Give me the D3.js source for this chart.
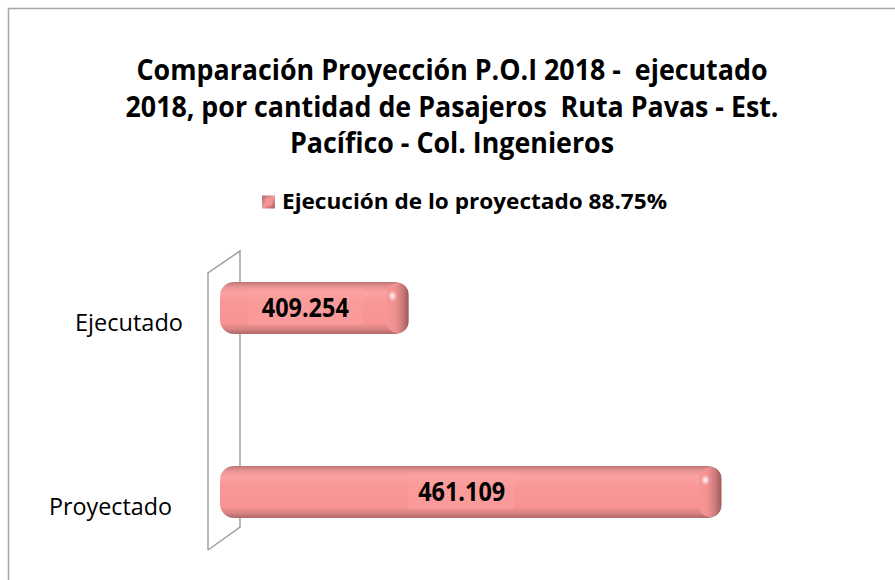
<!DOCTYPE html>
<html>
<head>
<meta charset="utf-8">
<script src="https://cdn.jsdelivr.net/npm/d3@7"></script>
<style>
  body { margin: 0; background: #fff; }
  text { font-family: "Open Sans", Lato, sans-serif; fill: #000; white-space: pre; }
</style>
</head>
<body>
<script>
// data
const categories = ["Ejecutado", "Proyectado"];
const values = [409.254, 461.109];
const valueLabels = ["409.254", "461.109"];
const titleLines = [
  "Comparación Proyección P.O.I 2018 -  ejecutado",
  "2018, por cantidad de Pasajeros  Ruta Pavas - Est.",
  "Pacífico - Col. Ingenieros"
];
const legendLabel = "Ejecución de lo proyectado 88.75%";

const W = 895, H = 580;

const svg = d3.select("body").append("svg")
  .attr("width", W)
  .attr("height", H);

const defs = svg.append("defs");

// vertical shading of the bar body
const bodyGrad = defs.append("linearGradient")
  .attr("id", "body").attr("x1", 0).attr("y1", 0).attr("x2", 0).attr("y2", 1);
[[0, "#bf7676"], [0.08, "#e48f8f"], [0.2, "#fba3a3"], [0.4, "#f99797"],
 [0.78, "#f89393"], [0.9, "#dc8484"], [1, "#b06868"]]
  .forEach(([o, c]) => bodyGrad.append("stop").attr("offset", o).attr("stop-color", c));

// right end cap
const capGrad = defs.append("linearGradient")
  .attr("id", "cap").attr("x1", 0).attr("y1", 0).attr("x2", 1).attr("y2", 0);
[[0, "#f69696"], [0.4, "#f09090"], [0.72, "#cc7a7a"], [1, "#9e5b5b"]]
  .forEach(([o, c]) => capGrad.append("stop").attr("offset", o).attr("stop-color", c));

const spot = defs.append("radialGradient").attr("id", "spot");
spot.append("stop").attr("offset", 0).attr("stop-color", "#fff").attr("stop-opacity", 0.95);
spot.append("stop").attr("offset", 1).attr("stop-color", "#fff").attr("stop-opacity", 0);

const iconGrad = defs.append("linearGradient")
  .attr("id", "icon").attr("x1", 0).attr("y1", 0).attr("x2", 1).attr("y2", 1);
iconGrad.append("stop").attr("offset", 0).attr("stop-color", "#b56868");
iconGrad.append("stop").attr("offset", 0.5).attr("stop-color", "#f39a9a");
iconGrad.append("stop").attr("offset", 1).attr("stop-color", "#a45c5c");

// chart border (runs off the right and bottom)
svg.append("path")
  .attr("d", `M8.5,${H + 5} V8.5 H${W + 5}`)
  .attr("fill", "none")
  .attr("stroke", "#a6a6a6")
  .attr("stroke-width", 1.5);

// title
svg.append("g").selectAll("text")
  .data(titleLines)
  .join("text")
  .attr("x", 452)
  .attr("y", (d, i) => 80 + i * 36.5)
  .attr("text-anchor", "middle")
  .attr("font-size", 28)
  .attr("font-weight", "bold")
  .attr("textLength", (d, i) => [631, 653, 324][i])
  .attr("lengthAdjust", "spacingAndGlyphs")
  .text(d => d);

// legend
const legend = svg.append("g");
legend.append("rect")
  .attr("x", 262).attr("y", 195.5).attr("width", 13).attr("height", 13)
  .attr("fill", "url(#icon)");
legend.append("rect")
  .attr("x", 265).attr("y", 198.5).attr("width", 7).attr("height", 7)
  .attr("fill", "#f49494");
legend.append("text")
  .attr("x", 282).attr("y", 209)
  .attr("font-size", 21)
  .attr("font-weight", "bold")
  .attr("textLength", 385)
  .attr("lengthAdjust", "spacingAndGlyphs")
  .text(legendLabel);

// scales
const x = d3.scaleLinear().domain([378, 470]).range([220, 775]);
const y = d3.scalePoint().domain(categories).range([308, 492]);
const bh = 52;

// side wall (3D)
const wallFront = 208, wallBack = 240;
svg.append("path")
  .attr("d", `M${wallFront},550 V273 L${wallBack},251 V527 L${wallFront},550`)
  .attr("fill", "none")
  .attr("stroke", "#a0a0a0")
  .attr("stroke-width", 1.5);

// category labels, shifted along the oblique axis
const labelShift = [183, 172];
svg.append("g").selectAll("text")
  .data(categories)
  .join("text")
  .attr("x", (d, i) => labelShift[i])
  .attr("y", d => y(d) + 23)
  .attr("text-anchor", "end")
  .attr("font-size", 24)
  .attr("textLength", (d, i) => [108, 123][i])
  .attr("lengthAdjust", "spacingAndGlyphs")
  .text(d => d);

// bars
const capW = 22;
const bars = svg.append("g").selectAll("g")
  .data(categories.map((c, i) => ({ c, v: values[i], label: valueLabels[i] })))
  .join("g");

const barTop = d => y(d.c) - bh / 2;
bars.append("rect")
  .attr("x", x.range()[0])
  .attr("y", barTop)
  .attr("width", d => x(d.v) - x.range()[0])
  .attr("height", bh)
  .attr("rx", 14)
  .attr("fill", "url(#body)");

// end cap
bars.append("rect")
  .attr("x", d => x(d.v) - capW)
  .attr("y", d => barTop(d) + 1)
  .attr("width", capW)
  .attr("height", bh - 2)
  .attr("rx", 11)
  .attr("fill", "url(#cap)");

bars.append("ellipse")
  .attr("cx", d => x(d.v) - capW + 6)
  .attr("cy", d => barTop(d) + 14)
  .attr("rx", 4.5).attr("ry", 5.5)
  .attr("fill", "url(#spot)");

// value labels with light box
const frontMid = d => (x.range()[0] + x(d.v) - capW) / 2 + 2;
bars.append("rect")
  .attr("x", d => frontMid(d) - (d.v > 440 ? 54 : 57))
  .attr("y", d => barTop(d) + 6)
  .attr("width", d => d.v > 440 ? 107 : 115)
  .attr("height", bh - 15)
  .attr("fill", "#fba0a0")
  .attr("opacity", 0.5);

bars.append("text")
  .attr("x", frontMid)
  .attr("y", d => y(d.c) + 9)
  .attr("text-anchor", "middle")
  .attr("font-size", 27)
  .attr("font-weight", "bold")
  .attr("textLength", 87)
  .attr("lengthAdjust", "spacingAndGlyphs")
  .text(d => d.label);
</script>
</body>
</html>
